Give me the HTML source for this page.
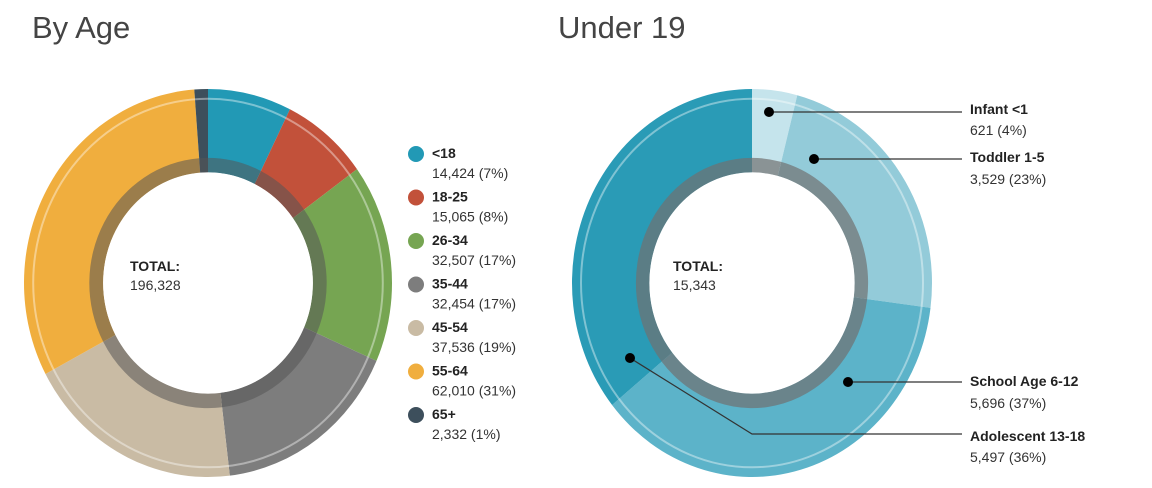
<!DOCTYPE html>
<html><head><meta charset="utf-8"><style>
body{margin:0;background:#fff;width:1152px;height:488px;overflow:hidden;font-family:"Liberation Sans",sans-serif;}
svg{position:absolute;left:0;top:0}
</style></head><body>
<svg id="s" width="1152" height="488" xmlns="http://www.w3.org/2000/svg">
<text x="32" y="38" font-size="31" fill="#444">By Age</text>
<text x="558" y="38" font-size="31" fill="#444">Under 19</text>
<g id="g"></g>
<g font-size="14" fill="#333">
<text x="130" y="271" font-weight="bold" fill="#222">TOTAL:</text><text x="130" y="290">196,328</text>
<text x="673" y="271" font-weight="bold" fill="#222">TOTAL:</text><text x="673" y="290">15,343</text>
</g>
<g id="leg" font-size="14" fill="#333"></g>
<g stroke="#333" stroke-width="1.2" fill="none">
<polyline points="769,112 962,112"/><polyline points="814,159 962,159"/>
<polyline points="848,382 962,382"/><polyline points="630,358 752,434 962,434"/>
</g>
<g fill="#000"><circle cx="769" cy="112" r="5"/><circle cx="814" cy="159" r="5"/><circle cx="848" cy="382" r="5"/><circle cx="630" cy="358" r="5"/></g>
<g font-size="14" fill="#333">
<text x="970" y="114" font-weight="bold" fill="#222">Infant &lt;1</text><text x="970" y="135">621 (4%)</text>
<text x="970" y="162" font-weight="bold" fill="#222">Toddler 1-5</text><text x="970" y="184">3,529 (23%)</text>
<text x="970" y="386" font-weight="bold" fill="#222">School Age 6-12</text><text x="970" y="408">5,696 (37%)</text>
<text x="970" y="441" font-weight="bold" fill="#222">Adolescent 13-18</text><text x="970" y="462">5,497 (36%)</text>
</g>
</svg>
<script>
var NS="http://www.w3.org/2000/svg",g=document.getElementById('g');
function el(t,a,p){var e=document.createElementNS(NS,t);for(var k in a)e.setAttribute(k,a[k]);(p||g).appendChild(e);return e;}
function pt(cx,cy,rx,ry,a){return [cx+rx*Math.sin(a),cy-ry*Math.cos(a)];}
function seg(cx,cy,rx,ry,irx,iry,a0,a1,fill,op){
 var L=(a1-a0)>Math.PI?1:0,p1=pt(cx,cy,rx,ry,a0),p2=pt(cx,cy,rx,ry,a1),p3=pt(cx,cy,irx,iry,a1),p4=pt(cx,cy,irx,iry,a0);
 var d="M"+p1+"A"+rx+","+ry+" 0 "+L+" 1 "+p2+"L"+p3+"A"+irx+","+iry+" 0 "+L+" 0 "+p4+"Z";
 el('path',{d:d,fill:fill,'fill-opacity':op||1});
}
function donut(cx,cy,rx,ry,vals,cols,oc,oo){
 var tot=vals.reduce(function(a,b){return a+b},0),a=0;
 vals.forEach(function(v,i){var b=a+v/tot*2*Math.PI;
  seg(cx,cy,rx,ry,rx*0.57,ry*0.57,a,b,cols[i]);
  seg(cx,cy,rx*0.645,ry*0.645,rx*0.57,ry*0.57,a,b,oc,oo);
  a=b;});
 el('ellipse',{cx:cx,cy:cy,rx:rx*0.95,ry:ry*0.95,fill:'none',stroke:'#fff','stroke-opacity':0.4,'stroke-width':2});
 el('ellipse',{cx:cx,cy:cy,rx:rx*0.57,ry:ry*0.57,fill:'#fff'});
}
donut(208,283,184,194,[14424,15065,32507,32454,37536,62010,2332],['#2299b5','#c2513a','#76a552','#7d7d7d','#c9bba4','#f0ae3e','#3d4f5c'],'#555',0.55);
donut(752,283,180,194,[621,3529,5696,5497],['#c5e4ec','#93cbd9','#5cb3c9','#2a9bb6'],'#707070',0.7);
var leg=document.getElementById('leg'),L=[['<18','14,424 (7%)','#2299b5'],['18-25','15,065 (8%)','#c2513a'],['26-34','32,507 (17%)','#76a552'],['35-44','32,454 (17%)','#7d7d7d'],['45-54','37,536 (19%)','#c9bba4'],['55-64','62,010 (31%)','#f0ae3e'],['65+','2,332 (1%)','#3d4f5c']];
L.forEach(function(r,i){var y=152+i*43.5;
 el('circle',{cx:416,cy:y+2,r:8,fill:r[2]},leg);
 var t=el('text',{x:432,y:y+6,'font-weight':'bold',fill:'#222'},leg);t.textContent=r[0];
 t=el('text',{x:432,y:y+26},leg);t.textContent=r[1];});
</script>
</body></html>
